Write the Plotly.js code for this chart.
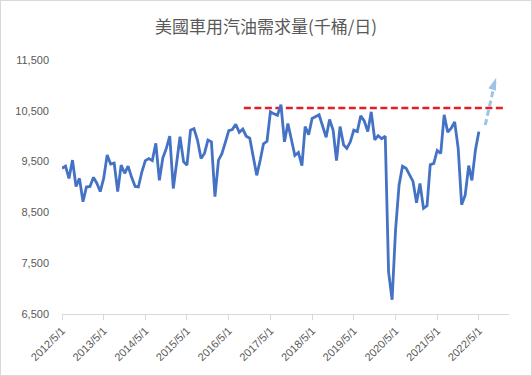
<!DOCTYPE html>
<html>
<head>
<meta charset="utf-8">
<script src="https://cdn.plot.ly/plotly-3.0.1.min.js"></script>
<style>
  html, body { margin: 0; padding: 0; background: #fff; }
  #frame { position: absolute; left: 0; top: 0; width: 530px; height: 374px; border: 1px solid #d9d9d9; }
  #chart { width: 530px; height: 374px; }
</style>
</head>
<body>
<div id="frame"><div id="chart"></div></div>
<script>
// Monthly demand (thousand barrels/day), starting 2012/5, one value per month
const startYear = 2012;
const startMonth = 5;
const demand = [
  9370, 9410, 9170, 9530, 9010, 9170, 8710, 9000, 9010, 9190, 9080, 8910,      // 2012/5 - 2013/4
  9170, 9630, 9450, 9470, 8910, 9430, 9270, 9410, 9190, 9010, 9000, 9300,      // 2013/5 - 2014/4
  9520, 9560, 9520, 9860, 9130, 9570, 9760, 10000, 8970, 9470, 9990, 9500,     // 2014/5 - 2015/4
  9430, 10120, 10150, 9925, 9560, 9660, 9925, 9890, 8810, 9530, 9650, 9880,    // 2015/5 - 2016/4
  10110, 10130, 10235, 10075, 10140, 10000, 9960, 9600, 9230, 9530, 9850, 9900, // 2016/5 - 2017/4
  10480, 10440, 10410, 10620, 9890, 10250, 9900, 9620, 9680, 9420, 10190, 10030, // 2017/5 - 2018/4
  10350, 10380, 10420, 10200, 9980, 10330, 10120, 9520, 10190, 9830, 9760, 9890, // 2018/5 - 2019/4
  10120, 10090, 10400, 10300, 10090, 10480, 9930, 10010, 9950, 10000, 7330, 6780, // 2019/5 - 2020/4
  8150, 9040, 9410, 9370, 9250, 9110, 8690, 9070, 8580, 8630, 9440, 9466,      // 2020/5 - 2021/4
  9720, 9660, 10420, 10080, 10160, 10280, 9760, 8650, 8840, 9420, 9130, 9730,  // 2021/5 - 2022/4
  10090                                                                         // 2022/5
];

// Reference level (red dashed line) and projected arrow
const refLevel = 10555;
const refStart = '2016-09-10';
const refEnd = '2022-12-04';
const arrowX = ['2022-06-26', '2022-09-26'];
const arrowY = [10220, 11130];
const arrowHeadX = ['2022-09-10', '2022-09-30'];
const arrowHeadY = [11020, 11150];

const titleText = '美國車用汽油需求量(千桶/日)';
const yTicks = [6500, 7500, 8500, 9500, 10500, 11500];

const months = demand.map((_, i) => {
  const m0 = startMonth - 1 + i;
  const y = startYear + Math.floor(m0 / 12);
  const m = (m0 % 12) + 1;
  return y + '-' + String(m).padStart(2, '0') + '-01';
});

const traces = [
  {
    x: [refStart, refEnd],
    y: [refLevel, refLevel],
    mode: 'lines',
    line: { color: '#e31e24', width: 2.5, dash: '7px,3.5px' },
    hoverinfo: 'skip'
  },
  {
    x: months,
    y: demand,
    mode: 'lines',
    line: { color: '#4472c4', width: 2.8 },
    hoverinfo: 'x+y'
  },
  {
    x: arrowX,
    y: arrowY,
    mode: 'lines',
    line: { color: '#9dc3e6', width: 3, dash: '6px,3.5px' },
    hoverinfo: 'skip'
  },
  {
    x: arrowHeadX,
    y: arrowHeadY,
    mode: 'markers',
    marker: { symbol: 'arrow', size: [0.1, 13], opacity: [0, 1], color: '#9dc3e6', angleref: 'previous', line: { width: 0 } },
    hoverinfo: 'skip'
  }
];

const tickFont = { family: 'Liberation Sans, Arial, sans-serif', size: 11, color: '#595959' };

const layout = {
  width: 530,
  height: 374,
  margin: { l: 61, r: 22, t: 59, b: 61 },
  paper_bgcolor: '#ffffff',
  plot_bgcolor: '#ffffff',
  showlegend: false,
  title: {
    text: titleText,
    font: { family: 'Noto Sans CJK TC, sans-serif', size: 17, color: '#595959' },
    x: 0.5, xanchor: 'center',
    y: 0.930, yanchor: 'middle', yref: 'container'
  },
  xaxis: {
    type: 'date',
    range: ['2012-05-01', '2023-01-20'],
    tick0: '2012-05-01',
    dtick: 'M12',
    tickformat: '%Y/%-m/%-d',
    tickangle: -45,
    ticks: 'outside',
    ticklen: 5,
    tickcolor: '#d9d9d9',
    showline: true,
    linecolor: '#d9d9d9',
    linewidth: 1,
    showgrid: false,
    zeroline: false,
    tickfont: tickFont
  },
  yaxis: {
    range: [6500, 11500],
    tickvals: yTicks,
    tickformat: ',d',
    showgrid: false,
    zeroline: false,
    showline: false,
    ticks: '',
    ticklabelstandoff: 12,
    tickfont: tickFont
  }
};

Plotly.newPlot('chart', traces, layout, { displayModeBar: false, staticPlot: true });
</script>
</body>
</html>
